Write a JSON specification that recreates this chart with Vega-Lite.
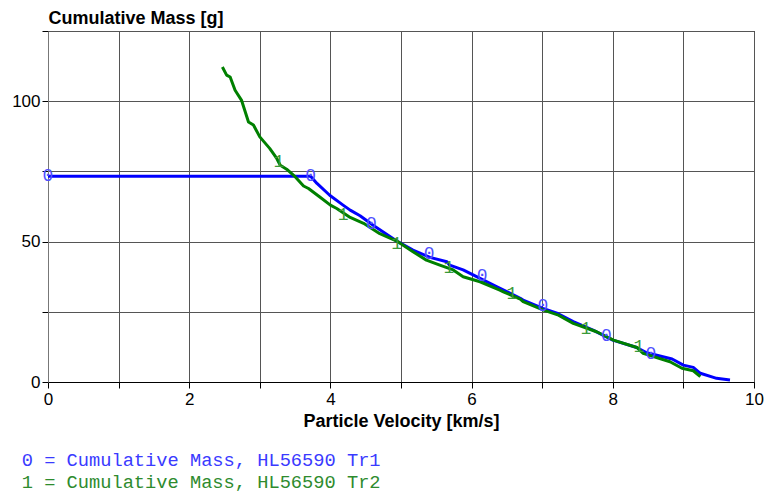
{
  "$schema": "https://vega.github.io/schema/vega-lite/v6.json",
  "width": 706,
  "height": 351,
  "autosize": "none",
  "padding": {"left": 48, "top": 31, "right": 12, "bottom": 114},
  "background": "white",
  "config": {
    "view": {"stroke": "#000000", "strokeWidth": 1},
    "axis": {
      "labelFont": "Liberation Sans",
      "titleFont": "Liberation Sans",
      "labelFontSize": 17,
      "titleFontSize": 18,
      "titleFontWeight": "bold",
      "labelColor": "#000000",
      "titleColor": "#000000",
      "domainColor": "#000000",
      "tickColor": "#000000",
      "gridColor": "#555555",
      "gridOpacity": 1,
      "gridWidth": 1,
      "tickSize": 6
    }
  },
  "datasets": {
    "lines": [
      {"series": "0", "v": 0.0, "m": 73.3},
      {"series": "0", "v": 3.72, "m": 73.3},
      {"series": "0", "v": 3.81, "m": 70.7},
      {"series": "0", "v": 3.99, "m": 66.5},
      {"series": "0", "v": 4.18, "m": 63.0},
      {"series": "0", "v": 4.28, "m": 61.2},
      {"series": "0", "v": 4.42, "m": 59.2},
      {"series": "0", "v": 4.6, "m": 55.9},
      {"series": "0", "v": 4.96, "m": 49.9},
      {"series": "0", "v": 5.17, "m": 47.0},
      {"series": "0", "v": 5.41, "m": 44.4},
      {"series": "0", "v": 5.65, "m": 42.8},
      {"series": "0", "v": 5.69, "m": 41.6},
      {"series": "0", "v": 5.88, "m": 39.9},
      {"series": "0", "v": 6.0, "m": 38.4},
      {"series": "0", "v": 6.36, "m": 33.9},
      {"series": "0", "v": 6.69, "m": 29.8},
      {"series": "0", "v": 6.73, "m": 29.2},
      {"series": "0", "v": 7.01, "m": 26.2},
      {"series": "0", "v": 7.22, "m": 24.4},
      {"series": "0", "v": 7.44, "m": 21.5},
      {"series": "0", "v": 7.72, "m": 18.5},
      {"series": "0", "v": 8.0, "m": 14.9},
      {"series": "0", "v": 8.34, "m": 12.3},
      {"series": "0", "v": 8.48, "m": 10.4},
      {"series": "0", "v": 8.84, "m": 8.2},
      {"series": "0", "v": 9.0, "m": 6.0},
      {"series": "0", "v": 9.14, "m": 5.2},
      {"series": "0", "v": 9.24, "m": 3.1},
      {"series": "0", "v": 9.47, "m": 1.3},
      {"series": "0", "v": 9.66, "m": 0.7},
      {"series": "1", "v": 2.47, "m": 112.2},
      {"series": "1", "v": 2.53, "m": 109.3},
      {"series": "1", "v": 2.58, "m": 108.6},
      {"series": "1", "v": 2.65, "m": 103.9},
      {"series": "1", "v": 2.74, "m": 100.4},
      {"series": "1", "v": 2.84, "m": 92.6},
      {"series": "1", "v": 2.91, "m": 91.5},
      {"series": "1", "v": 3.0, "m": 87.3},
      {"series": "1", "v": 3.14, "m": 83.2},
      {"series": "1", "v": 3.24, "m": 79.6},
      {"series": "1", "v": 3.29, "m": 77.2},
      {"series": "1", "v": 3.38, "m": 75.8},
      {"series": "1", "v": 3.5, "m": 73.1},
      {"series": "1", "v": 3.62, "m": 69.8},
      {"series": "1", "v": 3.69, "m": 68.9},
      {"series": "1", "v": 3.85, "m": 65.9},
      {"series": "1", "v": 4.0, "m": 63.0},
      {"series": "1", "v": 4.09, "m": 61.8},
      {"series": "1", "v": 4.28, "m": 58.6},
      {"series": "1", "v": 4.47, "m": 56.5},
      {"series": "1", "v": 4.7, "m": 52.8},
      {"series": "1", "v": 4.94, "m": 50.2},
      {"series": "1", "v": 5.17, "m": 46.4},
      {"series": "1", "v": 5.36, "m": 43.4},
      {"series": "1", "v": 5.55, "m": 41.6},
      {"series": "1", "v": 5.74, "m": 39.9},
      {"series": "1", "v": 5.88, "m": 37.5},
      {"series": "1", "v": 6.12, "m": 35.7},
      {"series": "1", "v": 6.4, "m": 32.7},
      {"series": "1", "v": 6.45, "m": 32.1},
      {"series": "1", "v": 6.69, "m": 29.5},
      {"series": "1", "v": 6.73, "m": 28.6},
      {"series": "1", "v": 7.02, "m": 25.6},
      {"series": "1", "v": 7.23, "m": 23.8},
      {"series": "1", "v": 7.44, "m": 20.9},
      {"series": "1", "v": 7.77, "m": 17.9},
      {"series": "1", "v": 8.01, "m": 14.9},
      {"series": "1", "v": 8.34, "m": 12.3},
      {"series": "1", "v": 8.43, "m": 10.2},
      {"series": "1", "v": 8.81, "m": 7.2},
      {"series": "1", "v": 8.98, "m": 4.9},
      {"series": "1", "v": 9.14, "m": 4.0},
      {"series": "1", "v": 9.24, "m": 1.9}
    ],
    "markers": [
      {"series": "0", "v": 0.0, "m": 73.3},
      {"series": "0", "v": 3.72, "m": 73.3},
      {"series": "0", "v": 4.58, "m": 56.3},
      {"series": "0", "v": 5.4, "m": 45.6},
      {"series": "0", "v": 6.15, "m": 37.7},
      {"series": "0", "v": 7.01, "m": 27.2},
      {"series": "0", "v": 7.91, "m": 16.5},
      {"series": "0", "v": 8.54, "m": 10.1},
      {"series": "1", "v": 3.27, "m": 78.4},
      {"series": "1", "v": 4.18, "m": 59.5},
      {"series": "1", "v": 4.94, "m": 49.3},
      {"series": "1", "v": 5.68, "m": 40.5},
      {"series": "1", "v": 6.57, "m": 31.3},
      {"series": "1", "v": 7.62, "m": 19.0},
      {"series": "1", "v": 8.37, "m": 12.5}
    ]
  },
  "encoding": {
    "x": {
      "field": "v",
      "type": "quantitative",
      "scale": {"domain": [0, 10], "nice": false, "zero": false},
      "axis": {
        "title": "Particle Velocity [km/s]",
        "values": [0, 1, 2, 3, 4, 5, 6, 7, 8, 9, 10],
        "labelExpr": "datum.value % 2 == 0 ? datum.label : ''",
        "labelPadding": 3,
        "titlePadding": 5,
        "labelFlush": false,
        "labelOverlap": false
      }
    },
    "y": {
      "field": "m",
      "type": "quantitative",
      "scale": {"domain": [0, 125], "nice": false},
      "axis": {
        "title": "Cumulative Mass [g]",
        "values": [0, 25, 50, 75, 100, 125],
        "labelExpr": "datum.value % 50 == 0 ? datum.label : ''",
        "labelPadding": 2,
        "titleAngle": 0,
        "titleAlign": "left",
        "titleBaseline": "alphabetic",
        "titleX": 0,
        "titleY": -8,
        "labelFlush": false,
        "labelOverlap": false,
        "domainColor": "#777777"
      }
    }
  },
  "layer": [
    {
      "data": {"name": "lines"},
      "mark": {"type": "line", "strokeWidth": 3, "strokeJoin": "round"},
      "encoding": {
        "stroke": {
          "field": "series",
          "type": "nominal",
          "scale": {"domain": ["0", "1"], "range": ["#0000ff", "#008000"]},
          "legend": {
            "orient": "none",
            "legendX": -45,
            "legendY": 420,
            "direction": "vertical",
            "title": null,
            "padding": 0,
            "symbolSize": 0,
            "symbolStrokeWidth": 0,
            "symbolOpacity": 0,
            "labelOffset": 0,
            "labelFont": "Liberation Mono",
            "labelFontSize": 18.7,
            "labelLimit": 800,
            "rowPadding": 2,
            "labelExpr": "datum.value + ' = Cumulative Mass, HL56590 Tr' + (datum.value == '0' ? '1' : '2')",
            "labelColor": {"expr": "datum.value == '0' ? '#3a3aff' : '#2e8b2e'"}
          }
        }
      }
    },
    {
      "data": {"name": "markers"},
      "mark": {"type": "text", "font": "Liberation Mono", "fontSize": 18, "align": "center", "baseline": "middle"},
      "encoding": {
        "text": {"field": "series", "type": "nominal"},
        "fill": {
          "field": "series",
          "type": "nominal",
          "scale": {"domain": ["0", "1"], "range": ["#5050ff", "#3a9a3a"]},
          "legend": null
        }
      }
    }
  ]
}
